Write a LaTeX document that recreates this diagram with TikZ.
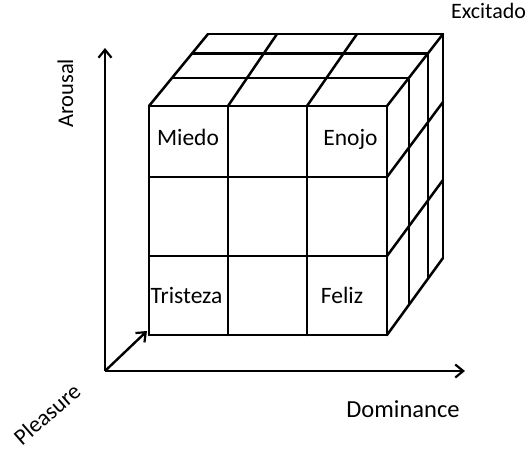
\documentclass[tikz,border=0pt]{standalone}
\usepackage{fontspec}
\setmainfont{Carlito}
\usetikzlibrary{calc,arrows.meta}
\tikzset{
  grid/.style={line width=2.5pt, line cap=round, line join=round},
  axis/.style={line width=2.4pt, -{Straight Barb[length=8pt,width=13pt,line width=2.2pt]}},
  lbl/.style={inner sep=0pt, anchor=base, font=\fontsize{23.5}{28}\selectfont},
}
\begin{document}
\begin{tikzpicture}[x=1pt,y=-1pt]
\useasboundingbox (0,0) rectangle (529,450);
% corners
\coordinate (F00) at (149,106);
\coordinate (F10) at (228,106);
\coordinate (F20) at (307,106);
\coordinate (F30) at (387,106);
\coordinate (F01) at (149,177);
\coordinate (F31) at (387,177);
\coordinate (F02) at (149,256);
\coordinate (F32) at (387,256);
\coordinate (F03) at (149,335);
\coordinate (F13) at (228,335);
\coordinate (F23) at (307,335);
\coordinate (F33) at (387,335);
\coordinate (B00) at (208,34);
\coordinate (B10) at (277,34);
\coordinate (B20) at (357,34);
\coordinate (B30) at (443,34);
\coordinate (B31) at (443,102);
\coordinate (B32) at (443,180);
\coordinate (B33) at (443,258);
% axes
\coordinate (O) at (105,371);
\coordinate (Ytip) at (105,48);
\coordinate (Xtip) at (465,371);
\coordinate (Ztip) at (147,331);
\draw[axis] (O) -- (Ytip);
\draw[axis] (O) -- (Xtip);
\draw[axis] (O) -- (Ztip);
% front face
\foreach \r in {0,1,2,3} {\draw[grid] (F0\r) -- (F3\r);}
\draw[grid] (F00) -- (F03);
\draw[grid] (F10) -- (F13);
\draw[grid] (F20) -- (F23);
\draw[grid] (F30) -- (F33);
% top face
\draw[grid] (F00) -- (B00);
\draw[grid] (F10) -- (B10);
\draw[grid] (F20) -- (B20);
\draw[grid] (F30) -- (B30);
\draw[grid] (B00) -- (B30);
\foreach \t in {0.39,0.73} {
  \draw[grid] ($(F00)!\t!(B00)$) -- ($(F30)!\t!(B30)$);
  \draw[grid] ($(F30)!\t!(B30)$) -- ($(F33)!\t!(B33)$);
}
% right face
\draw[grid] (B30) -- (B33);
\draw[grid] (F31) -- (B31);
\draw[grid] (F32) -- (B32);
\draw[grid] (F33) -- (B33);
% labels
\node[lbl] (miedo) at (188,145) {Miedo};
\node[lbl] (enojo) at (350.5,145) {Enojo};
\node[lbl] (tristeza) at (186.5,303) {Tristeza};
\node[lbl] (feliz) at (342,303) {Feliz};
\node[lbl, font=\fontsize{22}{26}\selectfont] (excitado) at (488.5,18) {Excitado};
\node[lbl, font=\fontsize{24.5}{29}\selectfont] (dominance) at (403,417) {Dominance};
\node[lbl, rotate=90, font=\fontsize{22.5}{27}\selectfont] (arousal) at (73,93.5) {Arousal};
\node[inner sep=0pt, rotate=41, font=\fontsize{23}{27}\selectfont] (pleasure) at (47,414) {Pleasure};
\end{tikzpicture}
\end{document}
